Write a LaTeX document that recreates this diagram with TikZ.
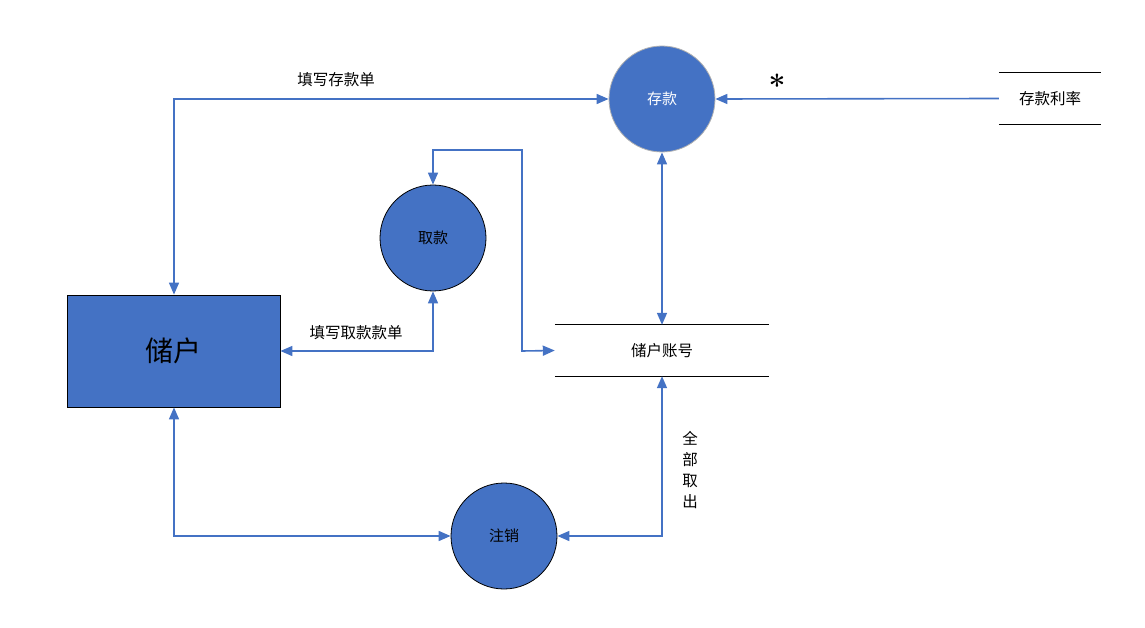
\documentclass[tikz,border=0pt]{standalone}
\usepackage{fontspec}
\newfontfamily\cjk{Noto Sans CJK SC}
\usetikzlibrary{arrows.meta}
\definecolor{blu}{HTML}{4472C4}
\begin{document}
\begin{tikzpicture}[x=1pt,y=-1pt,
  proc/.style={circle,fill=blu,draw=black,line width=0.8pt,minimum size=106pt,inner sep=0pt,font=\cjk\fontsize{15}{17}\selectfont},
  flow/.style={draw=blu,line width=1.6pt,-{Triangle[length=12pt,width=10pt]}},
  bflow/.style={draw=blu,line width=1.6pt,{Triangle[length=12pt,width=10pt]}-{Triangle[length=12pt,width=10pt]}},
  lbl/.style={font=\cjk\fontsize{15.5}{17}\selectfont,inner sep=0pt},
  storeline/.style={draw=black,line width=0.9pt}]
\useasboundingbox (0,0) rectangle (1145,628);
% entity
\node[draw=black,fill=blu,line width=0.8pt,minimum width=213pt,minimum height=112pt,inner sep=0pt,font=\cjk\fontsize{28}{32}\selectfont] (user) at (173.5,351) {储户};
% processes
\node[proc,draw=gray!60,text=white] (dep) at (662,99) {存款};
\node[proc] (wd) at (433,238) {取款};
\node[proc] (can) at (504,536) {注销};
% data stores
\node[lbl,minimum width=214pt,minimum height=51pt] (acct) at (662,350.5) {储户账号};
\draw[storeline] (acct.north west) -- (acct.north east);
\draw[storeline] (acct.south west) -- (acct.south east);
\node[lbl,minimum width=102pt,minimum height=51pt] (rate) at (1050,98.5) {存款利率};
\draw[storeline] (rate.north west) -- (rate.north east);
\draw[storeline] (rate.south west) -- (rate.south east);
% coordinates
\coordinate (c1) at (174,99);
\coordinate (c2) at (433,150);
\coordinate (c3) at (522,150);
\coordinate (c4) at (522,351);
\coordinate (c5) at (433,351);
\coordinate (c6) at (174,536);
\coordinate (c7) at (662,536);
% flows
\draw[bflow] (user.north -| c1) -- (c1) -- (dep.west);
\draw[flow] (rate.west) -- (dep.east);
\draw[bflow] (dep.south) -- (acct.north);
\draw[bflow] (wd.north) -- (c2) -- (c3) -- (c4) -- (acct.west);
\draw[bflow] (user.east) -- (c5) -- (wd.south);
\draw[bflow] (user.south -| c6) -- (c6) -- (can.west);
\draw[bflow] (can.east) -- (c7) -- (acct.south);
% labels
\node[lbl] (l1) at (336,80) {填写存款单};
\node[lbl] (l2) at (356,333) {填写取款款单};
\node[font=\bfseries\fontsize{30}{30}\selectfont,inner sep=0pt] (star) at (777,85) {*};
\node[lbl,align=center,font=\cjk\fontsize{15.5}{21}\selectfont] (l3) at (690,470) {全\\部\\取\\出};
\end{tikzpicture}
\end{document}
